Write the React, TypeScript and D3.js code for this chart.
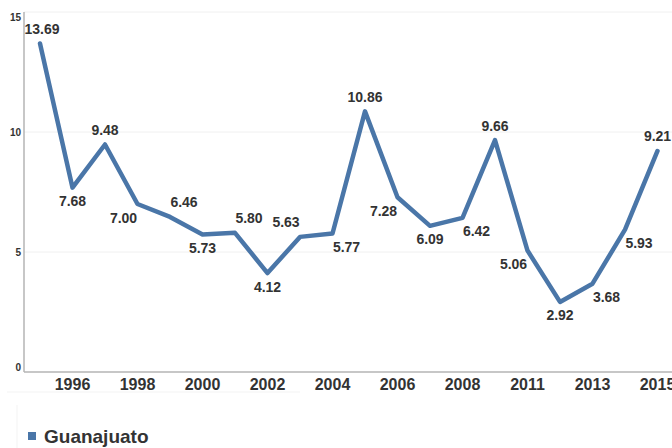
import React from "react";
import * as d3 from "d3";

const categories: string[] = [
  "1995", "1996", "1997", "1998", "1999", "2000", "2001", "2002", "2003", "2004",
  "2005", "2006", "2007", "2008", "2009", "2011", "2012", "2013", "2014", "2015",
];
const values: number[] = [
  13.69, 7.68, 9.48, 7.0, 6.46, 5.73, 5.8, 4.12, 5.63, 5.77,
  10.86, 7.28, 6.09, 6.42, 9.66, 5.06, 2.92, 3.68, 5.93, 9.21,
];
const tickLabels: string[] = ["1996", "1998", "2000", "2002", "2004", "2006", "2008", "2011", "2013", "2015"];
const yTicks: number[] = [0, 5, 10, 15];
const seriesName = "Guanajuato";

// label placement per point (style)
const placement: string[] = [
  "above", "below", "above", "below-left", "above-right", "below", "above-right", "below", "above-left", "below-right",
  "above", "below-left", "below", "below-right", "above", "below-left", "below", "below-right", "below-right", "above",
];

const W = 672;
const H = 448;
const LINE = "#4a76a8";
const TEXT = "#333333";

export default function App() {
  const x = d3.scalePoint<string>().domain(categories).range([40, 657.5]);
  const y = d3.scaleLinear().domain([0, 15]).range([372, 12]);
  const line = d3
    .line<number>()
    .x((_, i) => x(categories[i]) as number)
    .y((d) => y(d));

  const off = (p: string) => {
    let dx = 0;
    let dy = 0;
    if (p.startsWith("above")) dy = -14.5;
    if (p.startsWith("below")) dy = 13.5;
    if (p.endsWith("left")) dx = -14;
    if (p.endsWith("right")) dx = 14;
    return [dx, dy];
  };

  return (
    <svg
      width={W}
      height={H}
      style={{ position: "absolute", left: 0, top: 0, background: "#ffffff" }}
      fontFamily="'Liberation Sans', Arial, sans-serif"
    >
      {/* faint frames */}
      <line x1={7} x2={300} y1={392} y2={392} stroke="#f3f3f3" strokeWidth={1} />
      <line x1={17} x2={17} y1={405} y2={448} stroke="#f3f3f3" strokeWidth={1} />

      {/* gridlines */}
      {yTicks.filter((t) => t > 0).map((t) => (
        <line key={"g" + t} x1={24} x2={W} y1={y(t)} y2={y(t)} stroke="#f0f0f0" strokeWidth={1} />
      ))}

      {/* axes */}
      <line x1={24} x2={24} y1={y(15)} y2={y(0)} stroke="#b4b4b4" strokeWidth={1.5} />
      <line x1={24} x2={W} y1={y(0)} y2={y(0)} stroke="#b4b4b4" strokeWidth={1.5} />

      {/* y tick labels */}
      {yTicks.map((t) => {
        let cy = y(t);
        if (t === 15) cy += 5;
        if (t === 0) cy -= 5;
        return (
          <text key={"y" + t} x={21} y={cy + 3.5} textAnchor="end" fontSize={10} fontWeight="bold" fill={TEXT}>
            {t}
          </text>
        );
      })}

      {/* x tick labels */}
      {tickLabels.map((c) => (
        <text key={"x" + c} x={x(c) as number} y={390} textAnchor="middle" fontSize={16} fontWeight="bold" fill={TEXT}>
          {c}
        </text>
      ))}

      {/* line */}
      <path d={line(values) || ""} fill="none" stroke={LINE} strokeWidth={4.5} strokeLinejoin="round" strokeLinecap="round" />

      {/* value labels */}
      {values.map((v, i) => {
        const [dx, dy] = off(placement[i]);
        const px = (x(categories[i]) as number) + dx + (i === 0 ? 2 : 0);
        const py = y(v) + dy;
        return (
          <text key={"v" + i} x={px} y={py + 5} textAnchor="middle" fontSize={14} fontWeight="bold" fill={TEXT}>
            {v.toFixed(2)}
          </text>
        );
      })}

      {/* legend */}
      <rect x={28} y={432} width={8} height={8} fill={LINE} />
      <text x={44} y={443} fontSize={19} fontWeight="bold" fill={TEXT}>
        {seriesName}
      </text>
    </svg>
  );
}
